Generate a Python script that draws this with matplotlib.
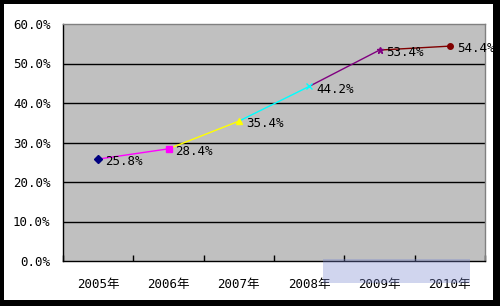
import matplotlib
matplotlib.use("Agg")
import matplotlib.pyplot as plt
from matplotlib.patches import Rectangle

years = ["2005年", "2006年", "2007年", "2008年", "2009年", "2010年"]
values = [25.8, 28.4, 35.4, 44.2, 53.4, 54.4]
labels = ["25.8%", "28.4%", "35.4%", "44.2%", "53.4%", "54.4%"]
colors = ["#000080", "#FF00FF", "#FFFF00", "#00FFFF", "#800080", "#800000"]
markers = ["D", "s", "^", "x", "*", "o"]
yticks = [0, 10, 20, 30, 40, 50, 60]

fam = ["DejaVu Sans Mono", "Noto Sans CJK SC"]

W, H = 500, 306
fig = plt.figure(figsize=(W / 100, H / 100), dpi=100)
fig.patch.set_facecolor("black")
# white inner panel
fig.add_artist(Rectangle((4 / W, 1 - 300 / H), (493 - 4) / W, (300 - 4) / H,
                         transform=fig.transFigure, facecolor="white",
                         edgecolor="none", zorder=0))

ax = fig.add_axes([63 / W, 1 - 261 / H, (485 - 63) / W, (261 - 24) / H])
ax.set_facecolor("#C0C0C0")
ax.set_xlim(0, len(years))
ax.set_ylim(0, 60)
ax.set_yticks(yticks)
ax.set_yticklabels([f"{v:.1f}%" for v in yticks], fontfamily=fam, fontsize=9)
ax.set_xticks([i for i in range(len(years) + 1)])
ax.set_xticklabels([])
ax.set_xticks([i + 0.5 for i in range(len(years))], minor=True)
ax.set_xticklabels(years, minor=True, fontfamily=fam, fontsize=9)
ax.tick_params(axis="x", which="minor", length=0, pad=12)
ax.tick_params(axis="x", which="major", direction="in", length=4, width=1, colors="black")
ax.tick_params(axis="y", length=0, pad=9)
for y in yticks[1:-1]:
    ax.axhline(y, color="black", lw=1, zorder=1)
for side in ["left", "bottom"]:
    ax.spines[side].set_color("black")
    ax.spines[side].set_linewidth(1)
for side in ["top", "right"]:
    ax.spines[side].set_color("#808080")
    ax.spines[side].set_linewidth(1)

xs = [i + 0.5 for i in range(len(years))]
for i in range(1, len(xs)):
    ax.plot(xs[i - 1:i + 1], values[i - 1:i + 1], color=colors[i], lw=1, zorder=2)
for i, (x, v) in enumerate(zip(xs, values)):
    ms = 4 if markers[i] != "*" else 5
    ax.plot([x], [v], marker=markers[i], color=colors[i], markersize=ms,
            markeredgewidth=1, zorder=3, clip_on=False)
    ax.annotate(labels[i], (x, v), xytext=(5, -2), textcoords="offset points",
                ha="left", va="center", fontfamily=fam, fontsize=9, color="black",
                annotation_clip=False, zorder=4)

# watermark approximation (translucent banner, no text)
fig.add_artist(Rectangle((323 / W, 1 - 283 / H), (470 - 323) / W, (283 - 259) / H,
                         transform=fig.transFigure, facecolor="#7A88D0",
                         edgecolor="none", alpha=0.35, zorder=5))

fig.savefig("out.png", dpi=100, facecolor=fig.get_facecolor())
